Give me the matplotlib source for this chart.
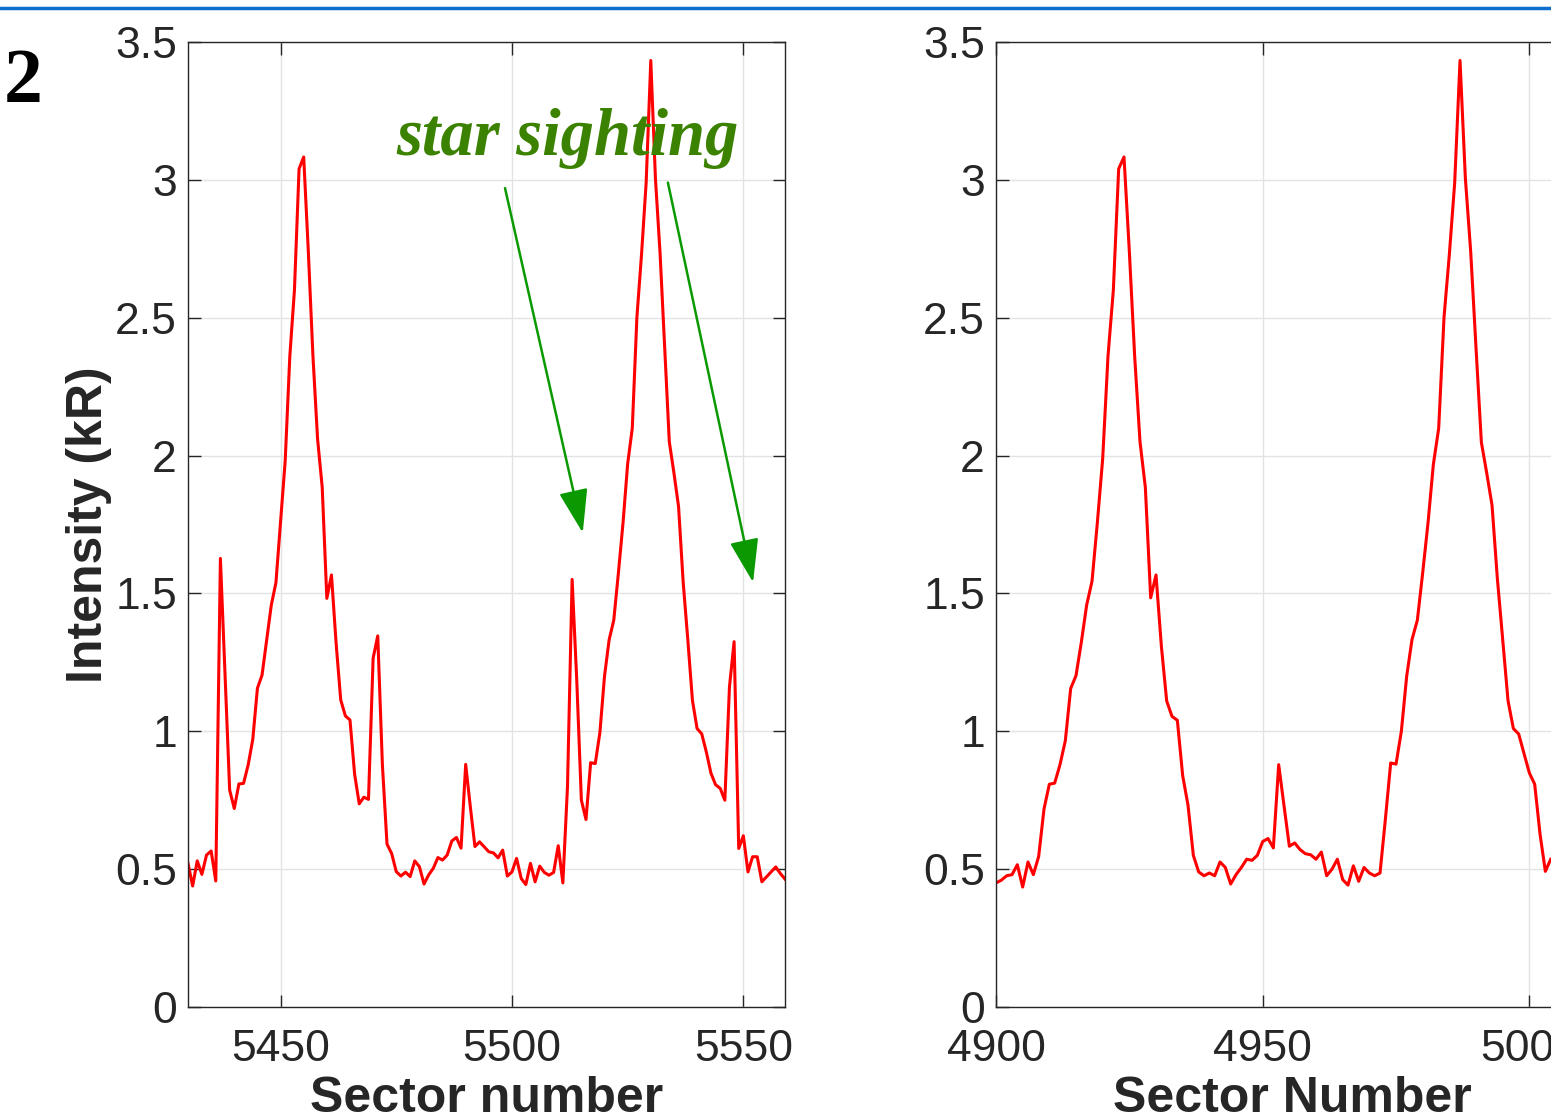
import matplotlib

matplotlib.use("Agg")
import matplotlib.pyplot as plt
import numpy as np
from matplotlib.lines import Line2D
from matplotlib.ticker import FuncFormatter

# left panel: sectors 5430..5559, one value per sector (kR)
left_start = 5430
left_intensity = [
    0.521, 0.439, 0.530, 0.481, 0.551, 0.566, 0.457, 1.627, 1.21, 0.787,
    0.720, 0.809, 0.811, 0.878, 0.971, 1.156, 1.204, 1.331, 1.458, 1.539,
    1.760, 1.980, 2.360, 2.600, 3.040, 3.083, 2.740, 2.360, 2.060, 1.885,
    1.482, 1.567, 1.320, 1.114, 1.056, 1.041, 0.845, 0.737, 0.761, 0.753,
    1.265, 1.346, 0.880, 0.591, 0.557, 0.491, 0.475, 0.489, 0.473, 0.530,
    0.509, 0.446, 0.479, 0.503, 0.542, 0.533, 0.551, 0.602, 0.615, 0.576,
    0.880, 0.727, 0.582, 0.599, 0.581, 0.563, 0.559, 0.541, 0.569, 0.475,
    0.490, 0.539, 0.466, 0.444, 0.521, 0.454, 0.511, 0.488, 0.478, 0.488,
    0.585, 0.450, 0.799, 1.551, 1.186, 0.750, 0.680, 0.886, 0.883, 0.995,
    1.200, 1.332, 1.403, 1.574, 1.756, 1.970, 2.099, 2.502, 2.730, 2.990,
    3.433, 3.006, 2.735, 2.390, 2.050, 1.937, 1.815, 1.540, 1.332, 1.112,
    1.010, 0.991, 0.925, 0.848, 0.806, 0.793, 0.750, 1.161, 1.325, 0.575,
    0.621, 0.490, 0.545, 0.545, 0.454, 0.472, 0.490, 0.508, 0.484, 0.464,
]

# right panel: sectors 4900..5004
right_start = 4900
right_intensity = [
    0.450, 0.460, 0.476, 0.480, 0.516, 0.435, 0.526, 0.480, 0.546, 0.718,
    0.808, 0.812, 0.879, 0.966, 1.155, 1.202, 1.323, 1.458, 1.544, 1.756,
    1.988, 2.361, 2.600, 3.040, 3.083, 2.740, 2.360, 2.050, 1.885, 1.484,
    1.567, 1.310, 1.110, 1.054, 1.040, 0.839, 0.732, 0.550, 0.490, 0.476,
    0.486, 0.476, 0.526, 0.506, 0.446, 0.480, 0.506, 0.536, 0.532, 0.550,
    0.600, 0.611, 0.577, 0.879, 0.730, 0.583, 0.595, 0.571, 0.556, 0.552,
    0.536, 0.562, 0.476, 0.500, 0.536, 0.462, 0.442, 0.512, 0.456, 0.506,
    0.486, 0.476, 0.486, 0.680, 0.885, 0.881, 1.000, 1.200, 1.333, 1.403,
    1.575, 1.756, 1.968, 2.099, 2.502, 2.730, 2.990, 3.433, 3.006, 2.740,
    2.390, 2.048, 1.937, 1.820, 1.554, 1.333, 1.111, 1.010, 0.990, 0.919,
    0.849, 0.808, 0.627, 0.492, 0.536,
]

left_xticks = [5450, 5500, 5550]
right_xticks = [4900, 4950, 5000]
yticks = [0, 0.5, 1, 1.5, 2, 2.5, 3, 3.5]

left_x = np.arange(left_start, left_start + len(left_intensity))
right_x = np.arange(right_start, right_start + len(right_intensity))

TICK_COLOR = "#262626"
SANS = "Liberation Sans"
LABEL_SIZE = 36


def style_axes(ax, xticks, xlim):
    ax.set_xlim(*xlim)
    ax.set_ylim(0, 3.5)
    ax.set_xticks(xticks)
    ax.set_yticks(yticks)
    ax.yaxis.set_major_formatter(FuncFormatter(lambda v, _: f"{v:g}"))
    ax.grid(True, color="#e3e3e3", linewidth=1.0)
    ax.set_axisbelow(True)
    ax.tick_params(direction="in", length=9, width=1.0, color=TICK_COLOR,
                   labelcolor=TICK_COLOR, labelsize=32,
                   top=True, right=True)
    ax.tick_params(axis="x", pad=16)
    ax.tick_params(axis="y", pad=8)
    for lab in ax.get_xticklabels() + ax.get_yticklabels():
        lab.set_fontfamily(SANS)
    for sp in ax.spines.values():
        sp.set_color(TICK_COLOR)
        sp.set_linewidth(1.0)


fig = plt.figure(figsize=(15.51, 11.16), dpi=100)

ax1 = fig.add_axes([188 / 1551, 109 / 1116, 597 / 1551, 965 / 1116])
ax1.plot(left_x, left_intensity, color="#ff0000", linewidth=2.2)
style_axes(ax1, left_xticks, (5430, 5559))
ax1.set_ylabel("Intensity (kR)", fontsize=LABEL_SIZE, fontweight="bold",
               family=SANS, color=TICK_COLOR)
ax1.yaxis.set_label_coords(-0.128, 0.5)
ax1.set_xlabel("Sector number", fontsize=LABEL_SIZE, fontweight="bold",
               family=SANS, color=TICK_COLOR)
ax1.xaxis.set_label_coords(0.5, -0.072)

# star sighting annotation
ax1.text(5475.0, 3.09, "star sighting", fontsize=48, fontweight="bold",
         fontstyle="italic", family="Liberation Serif", color="#3a8200",
         ha="left", va="baseline")
arrow_kw = dict(arrowstyle="-|>,head_length=1.35,head_width=0.45",
                mutation_scale=20, color="#0a9900", linewidth=1.8,
                shrinkA=0, shrinkB=0)
ax1.annotate("", xy=(5515.3, 1.72), xytext=(5498.5, 2.97), arrowprops=arrow_kw)
ax1.annotate("", xy=(5552.1, 1.54), xytext=(5533.7, 2.99), arrowprops=arrow_kw)

ax2 = fig.add_axes([996 / 1551, 109 / 1116, 586.7 / 1551, 965 / 1116])
ax2.plot(right_x, right_intensity, color="#ff0000", linewidth=2.2)
style_axes(ax2, right_xticks, (4900, 5010))
ax2.set_xlabel("Sector Number", fontsize=LABEL_SIZE, fontweight="bold",
               family=SANS, color=TICK_COLOR)
ax2.xaxis.set_label_coords(0.506, -0.072)

# panel number and the blue rule on top
fig.text(4 / 1551, 1 - 102 / 1116, "2", fontsize=56, fontweight="bold",
         family="Liberation Serif", color="black", ha="left", va="baseline")
fig.add_artist(Line2D([0, 1], [1 - 8 / 1116, 1 - 8 / 1116],
                      color="#0b6fcb", linewidth=2.5))

fig.savefig("out.png", dpi=100)
plt.close(fig)
